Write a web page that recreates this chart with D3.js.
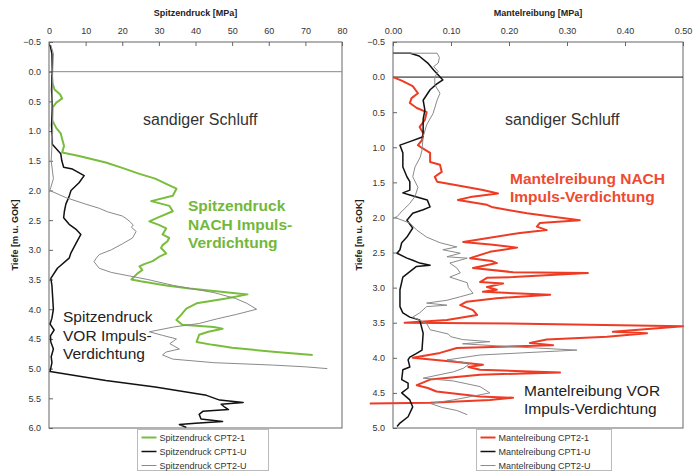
<!DOCTYPE html>
<html><head><meta charset="utf-8">
<script src="https://cdn.jsdelivr.net/npm/d3@7"></script>
<style>
html,body{margin:0;padding:0;background:#fff;}
svg{display:block;font-family:"Liberation Sans",Arial,sans-serif;}
</style></head><body>
<svg id="c" width="700" height="473"></svg>
<script>
// ---------- DATA ([depth m, value MPa]) ----------
const spitzTicks = [0,10,20,30,40,50,60,70,80];
const mantelTicks = [0,0.1,0.2,0.3,0.4,0.5];
const depthTicksLeft = [-0.5,0,0.5,1,1.5,2,2.5,3,3.5,4,4.5,5,5.5,6];
const depthTicksRight = [-0.5,0,0.5,1,1.5,2,2.5,3,3.5,4,4.5,5];

const spitzCPT21 = [[0.05,0.8],[0.2,1],[0.3,1.5],[0.38,3],[0.45,3.6],[0.52,2],[0.6,1],[0.82,0.9],[0.95,2],[1.04,3.2],[1.25,4.1],[1.36,3.6],[1.42,8.2],[1.53,15.5],[1.62,20],[1.72,24.7],[1.8,29],[1.89,32],[1.97,34.8],[2.09,33.8],[2.18,27.9],[2.26,32.9],[2.35,33.8],[2.45,30],[2.52,27.4],[2.58,30],[2.64,32],[2.74,31],[2.8,32.8],[2.86,32.3],[2.92,31],[2.97,30.6],[3.06,32],[3.12,30],[3.19,28.3],[3.24,26],[3.28,24.7],[3.34,25.5],[3.4,24.1],[3.5,22.5],[3.53,25],[3.6,32],[3.65,38.4],[3.75,54.2],[3.82,48.4],[3.9,40.3],[3.99,37.5],[4.1,36],[4.18,34.8],[4.26,36.4],[4.3,45],[4.33,47.4],[4.38,43.5],[4.43,41],[4.55,40.3],[4.6,44.7],[4.65,50],[4.72,62],[4.77,72]];
const spitzCPT1U = [[-0.45,0.3],[-0.3,0.8],[0,0.9],[0.3,0.7],[0.6,0.9],[0.9,0.7],[1.1,0.9],[1.22,0.9],[1.38,3.2],[1.5,3.5],[1.61,4],[1.64,6.4],[1.75,9.6],[1.87,8.2],[2.0,6],[2.1,5.5],[2.23,4.6],[2.35,4.2],[2.46,4],[2.57,5.5],[2.66,7.5],[2.74,8.7],[2.9,7.3],[3.05,6],[3.14,5.5],[3.31,2.3],[3.48,0.5],[3.6,0.8],[3.8,1],[4.0,1.2],[4.15,0.8],[4.25,0.3],[4.35,1.4],[4.45,0.4],[4.55,0.5],[4.67,1.2],[4.8,0.6],[4.9,0.8],[5.05,0.3],[5.2,15.5],[5.31,29],[5.45,43],[5.53,46.6],[5.57,53],[5.6,47],[5.65,48],[5.69,49],[5.72,42],[5.77,41],[5.85,41.5],[5.89,47.4],[5.92,40],[5.94,35.6],[5.99,37.5]];
const spitzCPT2U = [[-0.45,0.5],[-0.3,1.2],[0,1],[0.5,0.8],[1.0,1],[1.5,0.6],[1.8,1.2],[1.95,0.5],[2.0,0.2],[2.12,4.6],[2.23,10],[2.3,13.7],[2.36,16],[2.43,20],[2.47,21],[2.52,22],[2.58,23],[2.62,22.5],[2.69,23.8],[2.8,22.8],[2.9,20],[3.0,17],[3.08,13.7],[3.14,12.9],[3.2,12.3],[3.31,13.7],[3.38,17],[3.5,27],[3.6,34],[3.72,45],[3.82,51],[3.9,54],[4.0,56.7],[4.09,51],[4.16,46],[4.24,41],[4.3,34],[4.38,27.4],[4.44,31],[4.5,34.8],[4.58,33],[4.67,35.6],[4.72,32],[4.77,31],[4.84,33.8],[4.9,45],[4.94,61],[4.97,70],[5.0,76]];

const mantelCPT21 = [[0,0],[0.05,0.015],[0.13,0.034],[0.23,0.043],[0.3,0.032],[0.37,0.029],[0.44,0.041],[0.5,0.058],[0.61,0.055],[0.71,0.046],[0.8,0.052],[0.9,0.05],[0.97,0.043],[1.01,0.05],[1.08,0.064],[1.21,0.064],[1.25,0.081],[1.35,0.084],[1.42,0.072],[1.49,0.076],[1.54,0.11],[1.61,0.155],[1.66,0.181],[1.71,0.133],[1.75,0.112],[1.82,0.162],[1.85,0.17],[1.89,0.196],[1.94,0.231],[1.99,0.276],[2.04,0.322],[2.08,0.253],[2.13,0.248],[2.18,0.265],[2.22,0.219],[2.35,0.121],[2.39,0.172],[2.43,0.214],[2.49,0.167],[2.58,0.133],[2.62,0.17],[2.65,0.179],[2.72,0.138],[2.78,0.207],[2.79,0.336],[2.85,0.207],[2.86,0.162],[2.92,0.15],[2.94,0.19],[2.99,0.162],[3.03,0.179],[3.06,0.155],[3.1,0.271],[3.15,0.179],[3.2,0.127],[3.25,0.116],[3.32,0.138],[3.39,0.145],[3.46,0.093],[3.5,0.02],[3.51,0.2],[3.55,0.5],[3.63,0.379],[3.65,0.438],[3.7,0.369],[3.74,0.265],[3.79,0.236],[3.82,0.276],[3.86,0.11],[3.93,0.081],[4.0,0.034],[4.06,0.11],[4.1,0.155],[4.13,0.13],[4.17,0.15],[4.21,0.288],[4.24,0.15],[4.31,0.064],[4.39,0.041],[4.43,0.06],[4.48,0.075],[4.55,0.15],[4.57,0.207],[4.6,0.167],[4.64,0.064],[4.65,-0.04]];
const mantelCPT1U = [[-0.34,0],[-0.34,0.03],[-0.3,0.045],[-0.2,0.06],[-0.1,0.07],[0.04,0.086],[0.1,0.075],[0.18,0.064],[0.33,0.052],[0.47,0.055],[0.6,0.052],[0.85,0.052],[0.92,0.029],[0.97,0.012],[1.08,0.017],[1.28,0.017],[1.42,0.024],[1.49,0.029],[1.61,0.029],[1.65,0.017],[1.68,0.029],[1.75,0.059],[1.85,0.064],[1.89,0.052],[1.94,0.034],[2.04,0.024],[2.15,0.034],[2.28,0.024],[2.36,0.015],[2.46,0.012],[2.51,0.007],[2.58,0.024],[2.61,0.034],[2.65,0.046],[2.68,0.064],[2.7,0.04],[2.85,0.017],[3.03,0.012],[3.27,0.012],[3.36,0.017],[3.42,0.029],[3.46,0.046],[3.65,0.052],[3.89,0.05],[3.94,0.04],[3.99,0.029],[4.03,0.026],[4.13,0.029],[4.17,0.017],[4.31,0.015],[4.36,0.026],[4.43,0.026],[4.5,0.015],[4.6,0.029],[4.7,0.034],[4.84,0.026],[4.93,0.012],[4.98,0.007]];
const mantelCPT2U = [[-0.34,0],[-0.34,0.076],[-0.28,0.08],[-0.2,0.078],[-0.15,0.07],[-0.08,0.078],[0.0,0.072],[0.11,0.072],[0.23,0.081],[0.33,0.076],[0.52,0.069],[0.68,0.058],[0.85,0.052],[1.04,0.05],[1.14,0.047],[1.28,0.038],[1.42,0.034],[1.57,0.043],[1.7,0.038],[1.8,0.029],[1.94,0.012],[1.99,0.007],[2.0,0.003],[2.08,0.029],[2.18,0.041],[2.28,0.058],[2.36,0.081],[2.42,0.11],[2.46,0.086],[2.51,0.116],[2.56,0.093],[2.58,0.128],[2.65,0.098],[2.72,0.11],[2.79,0.116],[2.85,0.098],[2.93,0.128],[3.0,0.13],[3.08,0.138],[3.13,0.116],[3.18,0.093],[3.22,0.058],[3.25,0.093],[3.27,0.058],[3.36,0.046],[3.42,0.034],[3.51,0.058],[3.6,0.064],[3.66,0.095],[3.7,0.1],[3.74,0.12],[3.77,0.167],[3.8,0.12],[3.84,0.2],[3.89,0.317],[3.96,0.15],[4.03,0.093],[4.08,0.133],[4.15,0.121],[4.2,0.104],[4.29,0.052],[4.33,0.104],[4.41,0.15],[4.5,0.167],[4.6,0.104],[4.65,0.064],[4.71,0.086],[4.75,0.11],[4.81,0.128]];

const leftLegend = ["Spitzendruck CPT2-1","Spitzendruck CPT1-U","Spitzendruck CPT2-U"];
const rightLegend = ["Mantelreibung CPT2-1","Mantelreibung CPT1-U","Mantelreibung CPT2-U"];

// ---------- STYLES ----------
const GREEN = "#79bd3c", BLACK = "#111", GREY = "#8a8a8a", RED = "#ee3b24";
const svg = d3.select("#c");

function panel(cfg){
  const g = svg.append("g");
  const x = d3.scaleLinear().domain(cfg.xDomain).range([cfg.x0, cfg.x1]);
  const y = d3.scaleLinear().domain(cfg.yDomain).range([42, 428]);
  // frame
  g.append("rect").attr("x",cfg.x0).attr("y",42).attr("width",cfg.x1-cfg.x0).attr("height",386)
    .attr("fill","none").attr("stroke","#666").attr("stroke-width",1);
  // zero line
  g.append("line").attr("x1",cfg.x0).attr("x2",cfg.x1).attr("y1",y(0)).attr("y2",y(0))
    .attr("stroke",cfg.zeroColor).attr("stroke-width",1);
  // axes
  const ax = g.append("g").attr("transform",`translate(0,42)`)
    .call(d3.axisTop(x).tickValues(cfg.xTicks).tickFormat(cfg.xFmt).tickSizeInner(-4).tickSizeOuter(0).tickPadding(8));
  const ay = g.append("g").attr("transform",`translate(${cfg.x0},0)`)
    .call(d3.axisLeft(y).tickValues(cfg.yTicks).tickFormat(d3.format(".1f")).tickSizeInner(-4).tickSizeOuter(0).tickPadding(8));
  [ax,ay].forEach(a=>{
    a.select(".domain").remove();
    a.selectAll("line").attr("stroke","#666");
    a.selectAll("text").attr("fill","#333").attr("font-size",9);
  });
  // titles
  g.append("text").attr("x",(cfg.x0+cfg.x1)/2).attr("y",16).attr("text-anchor","middle")
    .attr("font-size",9).attr("font-weight","bold").attr("fill","#222").text(cfg.title);
  g.append("text").attr("transform",`translate(${cfg.x0-31},235) rotate(-90)`).attr("text-anchor","middle")
    .attr("font-size",9).attr("font-weight","bold").attr("fill","#222").text("Tiefe [m u. GOK]");
  // lines
  const line = d3.line().x(d=>x(d[1])).y(d=>y(d[0]));
  cfg.series.forEach(s=>{
    g.append("path").datum(s.data).attr("d",line).attr("fill","none")
      .attr("stroke",s.color).attr("stroke-width",s.w).attr("stroke-linejoin","round");
  });
  // legend
  const lg = g.append("g");
  lg.append("rect").attr("x",cfg.legX).attr("y",429.5).attr("width",cfg.legW).attr("height",41)
    .attr("fill","#fff").attr("stroke","#bbb").attr("stroke-width",1);
  cfg.series.forEach((s,i)=>{
    const yy = 437.5 + i*14;
    lg.append("line").attr("x1",cfg.legX+4).attr("x2",cfg.legX+19).attr("y1",yy).attr("y2",yy)
      .attr("stroke",s.color).attr("stroke-width",s.w);
    lg.append("text").attr("x",cfg.legX+22).attr("y",yy+3.2).attr("font-size",9).attr("fill","#333").text(cfg.legend[i]);
  });
  return {g,x,y};
}

const L = panel({
  x0:49, x1:342, xDomain:[0,80], yDomain:[-0.5,6], xTicks:spitzTicks, xFmt:d3.format("d"),
  yTicks:depthTicksLeft, zeroColor:"#888", title:"Spitzendruck [MPa]",
  legX:137.5, legW:131, legend:leftLegend,
  series:[{data:spitzCPT21,color:GREEN,w:2},{data:spitzCPT1U,color:BLACK,w:1.5},{data:spitzCPT2U,color:GREY,w:1}]
});
const R = panel({
  x0:393, x1:683, xDomain:[0,0.5], yDomain:[-0.5,5], xTicks:mantelTicks, xFmt:d3.format(".2f"),
  yTicks:depthTicksRight, zeroColor:"#111", title:"Mantelreibung [MPa]",
  legX:476.5, legW:135, legend:rightLegend,
  series:[{data:mantelCPT21,color:RED,w:2},{data:mantelCPT1U,color:BLACK,w:1.5},{data:mantelCPT2U,color:GREY,w:1}]
});

// annotations
function ann(lines, x, y0, opt){
  const t = svg.append("text").attr("x",x).attr("y",y0).attr("font-size",opt.size)
    .attr("font-weight",opt.bold?"bold":"normal").attr("fill",opt.color);
  lines.forEach((s,i)=>t.append("tspan").attr("x",x).attr("dy",i?opt.lh:0).text(s));
}
ann(["sandiger Schluff"],143,125,{size:16,color:"#333"});
ann(["sandiger Schluff"],505,125,{size:16,color:"#333"});
ann(["Spitzendruck","NACH Impuls-","Verdichtung"],188,211,{size:15.5,color:"#72b83a",bold:true,lh:18.5});
ann(["Spitzendruck","VOR Impuls-","Verdichtung"],63,322,{size:15.5,color:"#222",lh:18.5});
ann(["Mantelreibung NACH","Impuls-Verdichtung"],510,184,{size:15.5,color:"#ef4a30",bold:true,lh:17.5});
ann(["Mantelreibung VOR","Impuls-Verdichtung"],524,396,{size:15.5,color:"#222",lh:17.5});
</script>
</body></html>
